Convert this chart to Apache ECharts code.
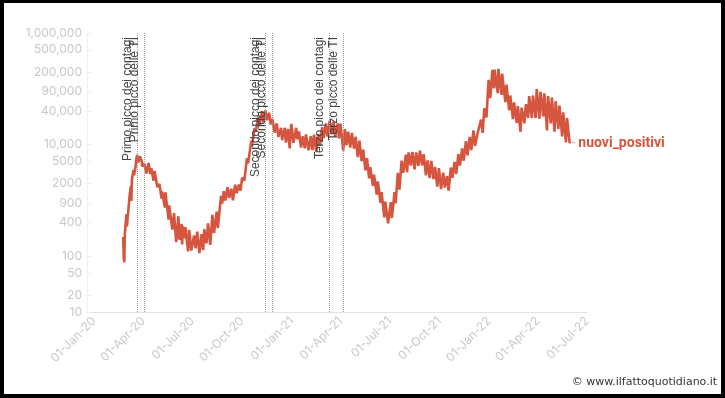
<!DOCTYPE html>
<html><head><meta charset="utf-8">
<script src="https://cdn.jsdelivr.net/npm/echarts@6/dist/echarts.min.js"></script>
<style>html,body{margin:0;padding:0;background:#fff}#c{width:725px;height:398px}</style>
</head><body><div id="c"></div>
<script>
// ---- data ----
const dates2020 = ['2020-02-24','2020-02-25','2020-02-26','2020-02-27','2020-02-28','2020-02-29','2020-03-01','2020-03-02','2020-03-03','2020-03-04','2020-03-05','2020-03-06','2020-03-07','2020-03-08','2020-03-09','2020-03-10','2020-03-11','2020-03-12','2020-03-13','2020-03-14','2020-03-15','2020-03-16','2020-03-17','2020-03-18','2020-03-19','2020-03-20','2020-03-21','2020-03-22','2020-03-23','2020-03-24','2020-03-25','2020-03-26','2020-03-27','2020-03-28','2020-03-29','2020-03-30','2020-03-31',
'2020-04-03','2020-04-07','2020-04-11','2020-04-14','2020-04-16','2020-04-20','2020-04-22','2020-04-27','2020-05-01','2020-05-05','2020-05-06','2020-05-11','2020-05-12','2020-05-18','2020-05-19','2020-05-25','2020-05-28','2020-06-01','2020-06-05','2020-06-07','2020-06-11','2020-06-12','2020-06-13','2020-06-16','2020-06-18','2020-06-23','2020-06-25','2020-06-29','2020-07-04','2020-07-07','2020-07-10','2020-07-14','2020-07-18','2020-07-21','2020-07-23','2020-07-27','2020-07-30','2020-08-03','2020-08-07','2020-08-10','2020-08-15','2020-08-17','2020-08-23','2020-08-25','2020-08-28','2020-08-31','2020-09-04','2020-09-07','2020-09-11','2020-09-14','2020-09-18','2020-09-21','2020-09-25','2020-09-28','2020-10-01','2020-10-05','2020-10-10','2020-10-12','2020-10-18','2020-10-19','2020-10-24','2020-10-26','2020-10-31','2020-11-02','2020-11-07','2020-11-09','2020-11-13','2020-11-16','2020-11-20','2020-11-23','2020-11-26','2020-11-30','2020-12-04','2020-12-07','2020-12-12','2020-12-14','2020-12-19','2020-12-21','2020-12-25','2020-12-28','2020-12-31'];
const cases2020 = [221,93,78,250,238,240,566,342,466,587,769,778,1247,1492,1797,977,2313,2651,2547,3497,2823,3233,3526,4207,5322,5986,6557,5560,4789,5249,5210,6153,5959,5974,5217,4050,4053,
4585,3039,4694,2972,3786,2256,3370,1739,1965,1075,1444,744,1402,451,813,300,593,178,518,197,379,163,346,210,333,122,296,126,235,138,276,114,249,129,306,170,386,159,552,259,629,320,1210,878,1462,996,1733,1108,1616,1008,1907,1350,1912,1494,2548,2257,5724,4619,11705,9338,19644,17012,31758,22253,39811,25271,40902,27354,37242,22930,29003,16377,24099,13720,19903,12030,19974,10872,19037,8585,23477];

const dates2021 = ['2021-01-01','2021-01-04','2021-01-09','2021-01-11','2021-01-14','2021-01-18','2021-01-21','2021-01-25','2021-01-27','2021-02-01','2021-02-05','2021-02-08','2021-02-11','2021-02-15','2021-02-19','2021-02-22','2021-02-26','2021-03-01','2021-03-05','2021-03-08','2021-03-12','2021-03-15','2021-03-19','2021-03-22','2021-03-27','2021-03-29','2021-04-01','2021-04-06','2021-04-09','2021-04-12','2021-04-15','2021-04-19','2021-04-22','2021-04-26','2021-04-29','2021-05-03','2021-05-06','2021-05-10','2021-05-13','2021-05-17','2021-05-20','2021-05-24','2021-05-26','2021-05-31','2021-06-02','2021-06-07','2021-06-09','2021-06-14','2021-06-16','2021-06-21','2021-06-23','2021-06-28','2021-07-03','2021-07-05','2021-07-10','2021-07-12','2021-07-16','2021-07-19','2021-07-23','2021-07-26','2021-07-31','2021-08-02','2021-08-05','2021-08-09','2021-08-12','2021-08-16','2021-08-19','2021-08-23','2021-08-26','2021-08-30','2021-09-02','2021-09-06','2021-09-09','2021-09-13','2021-09-16','2021-09-20','2021-09-23','2021-09-27','2021-09-30','2021-10-04','2021-10-08','2021-10-11','2021-10-15','2021-10-18','2021-10-22','2021-10-25','2021-10-29','2021-11-01','2021-11-05','2021-11-08','2021-11-12','2021-11-15','2021-11-19','2021-11-22','2021-11-26','2021-11-29','2021-12-03','2021-12-06','2021-12-10','2021-12-13','2021-12-17','2021-12-20','2021-12-23','2021-12-27','2021-12-31'];
const cases2021 = [22211,10800,19978,12532,17246,8824,14078,8561,15204,7925,14218,7970,15146,7351,15479,9630,20499,13114,24036,13902,26824,15267,25735,13846,23987,12916,23649,7767,18938,9789,16974,8864,16232,8444,13708,5948,11807,5080,8085,3455,5741,2490,3937,1820,2897,1273,2199,907,1400,495,951,389,932,480,1400,888,3127,1552,5143,3117,6599,3190,7230,4200,7409,3600,7260,4168,7826,4257,6761,2800,5193,2512,5117,2407,3970,1772,3804,1597,3153,1700,2732,1492,3882,2535,4878,2949,6764,4197,8516,5144,11555,6404,13686,7975,17959,9503,15021,14000,28064,16213,44595,30810,144243];

const dates2022 = ['2022-01-03','2022-01-07','2022-01-10','2022-01-11','2022-01-17','2022-01-18','2022-01-24','2022-01-25','2022-01-31','2022-02-02','2022-02-07','2022-02-09','2022-02-14','2022-02-16','2022-02-21','2022-02-23','2022-02-28','2022-03-02','2022-03-07','2022-03-10','2022-03-14','2022-03-16','2022-03-21','2022-03-23','2022-03-28','2022-03-30','2022-04-04','2022-04-06','2022-04-11','2022-04-13','2022-04-18','2022-04-20','2022-04-25','2022-04-27','2022-05-02','2022-05-04','2022-05-09','2022-05-11','2022-05-16','2022-05-18','2022-05-23','2022-05-25','2022-05-30'];
const cases2022 = [68052,219441,101762,220532,83403,228179,77696,186740,57715,118994,41247,75861,28630,57000,24408,49000,17000,46000,24000,53000,30000,74000,30000,76000,30000,99000,29000,88000,32000,83000,18000,74000,24000,70000,17000,60000,19000,50000,14000,38000,11000,30000,10500];

const seriesName = 'nuovi_positivi';
const peakNames = ['Primo picco dei contagi','Primo picco delle TI','Secondo picco dei contagi','Secondo picco delle TI','Terzo picco dei contagi','Terzo picco delle TI'];
const peakDates = ['2020-03-21','2020-04-03','2020-11-13','2020-11-25','2021-03-12','2021-04-06'];
const xTickDates = ['2020-01-01','2020-04-01','2020-07-01','2020-10-01','2021-01-01','2021-04-01','2021-07-01','2021-10-01','2022-01-01','2022-04-01','2022-07-01'];
const yTickValues = [10,20,50,100,400,900,2000,5000,10000,40000,90000,200000,500000,1000000];
const watermark = '© www.ilfattoquotidiano.it';

// ---- chart ----
function parseD(s){const p=s.split('-');return new Date(+p[0],+p[1]-1,+p[2]).getTime();}
const MONTHS=['Jan','Feb','Mar','Apr','May','Jun','Jul','Aug','Sep','Oct','Nov','Dec'];
function fmtDate(v){const d=new Date(v);const dd=String(d.getDate()).padStart(2,'0');return dd+'-'+MONTHS[d.getMonth()]+'-'+String(d.getFullYear()).slice(2);}
function fmtNum(v){v=Math.round(v);return v>=10000?String(v).replace(/\B(?=(\d{3})+(?!\d))/g,','):String(v);}
const xTickSet = new Set(xTickDates.map(fmtDate));
function fmtXLabel(v){const s=fmtDate(v);return xTickSet.has(s)?s:'';}

const allDates = dates2020.concat(dates2021, dates2022);
const allCases = cases2020.concat(cases2021, cases2022);
const data = allDates.map((d,i)=>[parseD(d), allCases[i]]);
const RED = '#d6553f';

const chart = echarts.init(document.getElementById('c'));
chart.setOption({
  animation:false,
  backgroundColor:'#fff',
  grid:{left:87,right:138,top:33,bottom:86},
  xAxis:{
    type:'time', min:parseD('2019-12-19'), max:parseD('2022-07-01'), splitNumber:10,
    axisLine:{show:true,lineStyle:{color:'#e2e2e2',width:1}},
    axisTick:{show:false}, splitLine:{show:false},
    axisLabel:{formatter:fmtXLabel, rotate:45, color:'#c8c8c8', fontSize:12, fontFamily:'Inter', margin:7, hideOverlap:false, showMinLabel:true, showMaxLabel:true}
  },
  yAxis:{
    type:'log', logBase:10, min:10, max:1000000,
    axisLine:{show:true,lineStyle:{color:'#f0f0f0'}},
    axisTick:{show:true, inside:true, length:4, customValues:yTickValues, lineStyle:{color:'#ececec'}},
    splitLine:{show:false}, minorTick:{show:false},
    axisLabel:{customValues:yTickValues, formatter:fmtNum, color:'#c8c8c8', fontSize:12, fontFamily:'Inter', margin:5}
  },
  series:[{
    type:'line', name:seriesName, data:data, showSymbol:false, symbol:'none',
    lineStyle:{color:RED,width:2.6}, itemStyle:{color:RED},
    endLabel:{show:true, distance:2, formatter:'{d|-} {n|'+seriesName+'}',
      rich:{d:{color:'#a8a8a8',fontSize:12,fontFamily:'Roboto'}, n:{color:RED,fontSize:14,fontWeight:'bold',fontFamily:'Roboto'}}},
    markLine:{
      silent:true, symbol:['none','none'], animation:false,
      lineStyle:{color:'#9a9a9a',type:'dotted',width:1},
      label:{show:true, position:'insideEndTop', formatter:'{b}', color:'#444', fontSize:12, fontFamily:'Liberation Sans', distance:4},
      data: peakDates.map((d,i)=>({name:peakNames[i], xAxis:parseD(d)}))
    }
  }],
  graphic:[
    {type:'rect', left:0, top:0, shape:{width:725,height:3}, style:{fill:'#000'}, z:100},
    {type:'rect', left:0, top:0, shape:{width:4,height:398}, style:{fill:'#000'}, z:100},
    {type:'rect', right:0, top:0, shape:{width:4,height:398}, style:{fill:'#000'}, z:100},
    {type:'rect', left:0, bottom:0, shape:{width:725,height:4}, style:{fill:'#000'}, z:100},
    {type:'text', right:8, top:377, style:{text:watermark, fill:'#333', font:'11px "DejaVu Sans"'}, z:100}
  ]
});
</script></body></html>
